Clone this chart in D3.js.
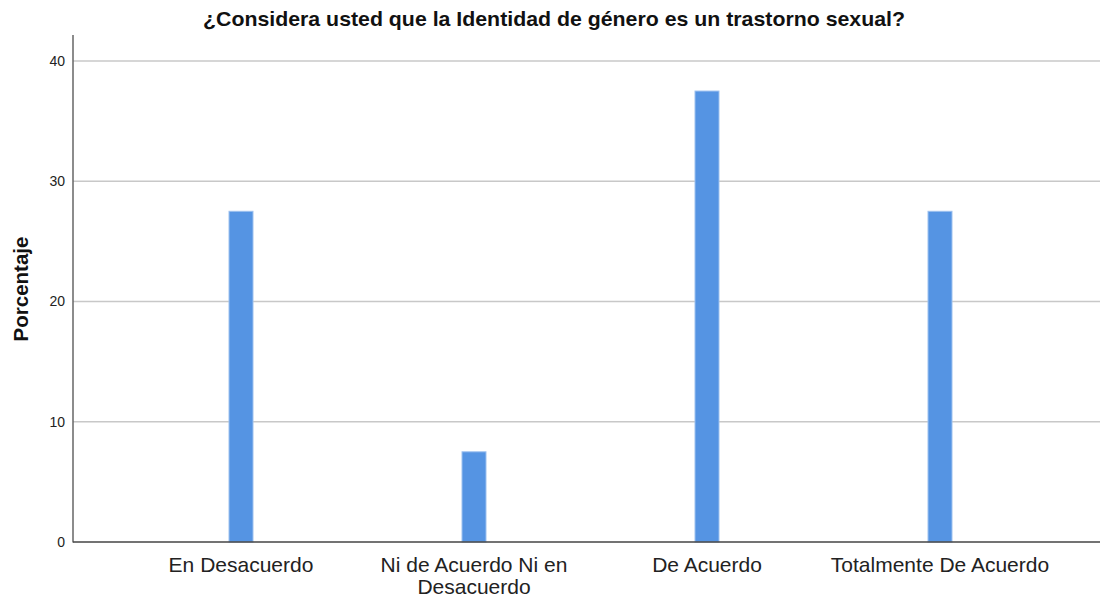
<!DOCTYPE html>
<html><head><meta charset="utf-8">
<script src="https://cdn.jsdelivr.net/npm/d3@7"></script>
<style>body{margin:0;background:#fff}svg{display:block;font-family:"Liberation Sans",Arial,sans-serif}</style>
</head><body><svg id="c" width="1102" height="598"></svg>
<script>
const categories = [["En Desacuerdo"], ["Ni de Acuerdo Ni en", "Desacuerdo"], ["De Acuerdo"], ["Totalmente De Acuerdo"]];
const values = [27.5, 7.5, 37.5, 27.5];
const yTicks = [0, 10, 20, 30, 40];
const title = "¿Considera usted que la Identidad de género es un trastorno sexual?";
const yLabel = "Porcentaje";

const svg = d3.select("#c");
const x0 = 73, x1 = 1100, yB = 542, yT = 35;
const x = d3.scaleBand().domain(d3.range(categories.length)).range([124.5, 1056.5]);
const y = d3.scaleLinear().domain([0, 42.16]).range([yB, yT]);

// gridlines
svg.append("g").selectAll("line").data(yTicks.filter(d => d > 0)).join("line")
  .attr("x1", x0).attr("x2", x1).attr("y1", d => y(d)).attr("y2", d => y(d))
  .attr("stroke", "#c8c8c8").attr("stroke-width", 1.5);

// bars
const bw = 24;
svg.append("g").selectAll("rect").data(values).join("rect")
  .attr("x", (d, i) => x(i) + x.bandwidth() / 2 - bw / 2)
  .attr("width", bw)
  .attr("y", d => y(d)).attr("height", d => yB - y(d))
  .attr("fill", "#5594e3").attr("stroke", "#9dc1ef").attr("stroke-width", 1);

// y axis
const ya = svg.append("g").attr("transform", `translate(${x0},0)`)
  .call(d3.axisLeft(y).tickValues(yTicks).tickSize(0).tickFormat(d3.format("d")));
ya.select(".domain").remove();
ya.selectAll(".tick text").attr("font-size", 14).attr("fill", "#222").attr("font-family", "Liberation Sans, Arial, sans-serif").attr("x", -8);
svg.append("line").attr("x1", x0).attr("x2", x0).attr("y1", yT).attr("y2", yB + 0.5).attr("stroke", "#666").attr("stroke-width", 1.5);
svg.append("line").attr("x1", x0).attr("x2", x1).attr("y1", yB).attr("y2", yB).attr("stroke", "#444").attr("stroke-width", 1.5);

// x labels
const xl = svg.append("g").selectAll("text").data(categories).join("text")
  .attr("x", (d, i) => x(i) + x.bandwidth() / 2).attr("y", 572)
  .attr("text-anchor", "middle").attr("font-size", 21).attr("fill", "#222");
xl.selectAll("tspan").data(d => d).join("tspan")
  .attr("x", function () { return this.parentNode.getAttribute("x"); })
  .attr("dy", (d, i) => i === 0 ? 0 : 21.5).text(d => d);

// title
svg.append("text").attr("x", 554).attr("y", 26).attr("text-anchor", "middle")
  .attr("font-size", 20.5).attr("font-weight", "bold").attr("fill", "#111")
  .attr("textLength", 702).attr("lengthAdjust", "spacingAndGlyphs").text(title);

// y label
svg.append("text").attr("transform", "translate(28,289) rotate(-90)").attr("text-anchor", "middle")
  .attr("font-size", 20.5).attr("font-weight", "bold").attr("fill", "#111").text(yLabel);
</script></body></html>
